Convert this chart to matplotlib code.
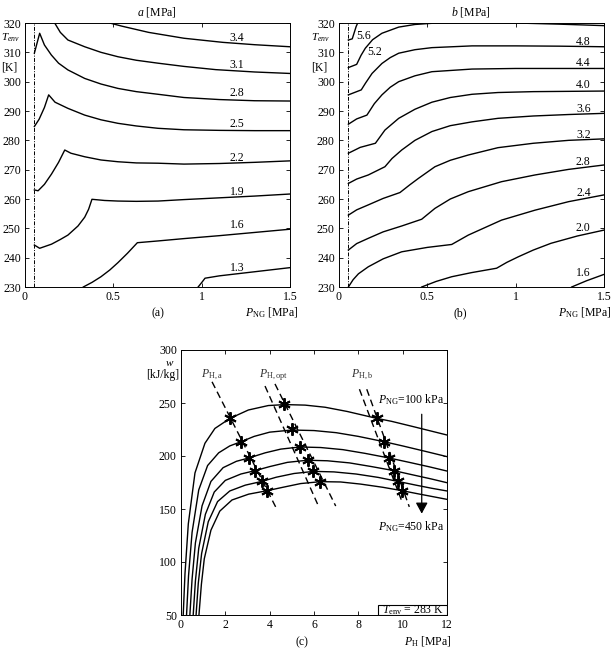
import numpy as np
import matplotlib
matplotlib.use('Agg')
import matplotlib.pyplot as plt
from matplotlib.patches import Rectangle

# Fuente tipo Times para todo
plt.rcParams['font.family'] = 'serif'
plt.rcParams['font.serif'] = ['Liberation Serif']
plt.rcParams['mathtext.fontset'] = 'custom'
plt.rcParams['mathtext.rm'] = 'Liberation Serif'
plt.rcParams['mathtext.it'] = 'Liberation Serif:italic'
plt.rcParams['mathtext.bf'] = 'Liberation Serif:bold'
plt.rcParams['font.size'] = 8.5

# ---------------- datos panel (a) ----------------
a_labels = ['1.3', '1.6', '1.9', '2.2', '2.5', '2.8', '3.1', '3.4']
a_x = [
    [0.98, 1.0, 1.019, 1.1, 1.3, 1.5],
    [0.33, 0.38, 0.43, 0.48, 0.526, 0.58, 0.636, 0.753, 0.9, 1.1, 1.3, 1.5],
    [0.053, 0.083, 0.15, 0.2, 0.243, 0.3, 0.338, 0.36, 0.379, 0.45, 0.526, 0.63, 0.753, 0.9, 1.1, 1.3, 1.5],
    [0.053, 0.074, 0.11, 0.15, 0.19, 0.225, 0.26, 0.338, 0.43, 0.526, 0.63, 0.753, 0.9, 1.1, 1.3, 1.5],
    [0.053, 0.08, 0.11, 0.134, 0.17, 0.243, 0.338, 0.43, 0.526, 0.63, 0.753, 0.9, 1.1, 1.3, 1.5],
    [0.053, 0.083, 0.11, 0.149, 0.19, 0.243, 0.338, 0.43, 0.526, 0.63, 0.753, 0.9, 1.1, 1.3, 1.5],
    [0.168, 0.2, 0.243, 0.338, 0.43, 0.526, 0.63, 0.753, 0.9, 1.08, 1.3, 1.5],
    [0.48, 0.55, 0.7, 0.9, 1.12, 1.3, 1.5],
]
a_T = [
    [230, 231.5, 233, 233.8, 235.2, 236.6],
    [230, 231.6, 233.5, 235.8, 238.3, 241.5, 245.1, 245.7, 246.5, 247.5, 248.6, 249.7],
    [244.3, 243.2, 244.6, 246.2, 247.7, 250.8, 253.8, 256.5, 259.9, 259.5, 259.3, 259.2, 259.3, 259.8, 260.4, 261, 261.7],
    [263.1, 262.8, 265, 268.5, 272.5, 276.7, 275.6, 274.4, 273.3, 272.7, 272.3, 272.2, 271.9, 272.1, 272.5, 273],
    [284.7, 287.2, 291.2, 295.5, 293, 290.9, 288.6, 287, 285.8, 284.9, 284.1, 283.6, 283.4, 283.3, 283.3],
    [309.7, 316.5, 312.5, 309.1, 306.3, 304, 301.1, 299.2, 297.7, 296.6, 295.7, 294.6, 293.9, 293.5, 293.4],
    [320, 316.8, 314.2, 311.9, 310, 308.5, 307.3, 306.3, 305.2, 304.1, 303.3, 302.8],
    [320, 318.9, 316.8, 314.8, 313.4, 312.6, 311.9],
]
a_lab_T = [236.4, 251, 262.5, 273.9, 285.5, 296, 305.7, 315]

# ---------------- datos panel (b) ----------------
b_labels = ['1.6', '2.0', '2.4', '2.8', '3.2', '3.6', '4.0', '4.4', '4.8', '5.2', '5.6']
b_x = [
    [1.317, 1.4, 1.5],
    [0.468, 0.55, 0.638, 0.75, 0.892, 0.95, 1.015, 1.1, 1.2, 1.35, 1.5],
    [0.053, 0.08, 0.11, 0.166, 0.25, 0.355, 0.5, 0.638, 0.732, 0.92, 1.11, 1.3, 1.5],
    [0.053, 0.1, 0.166, 0.25, 0.355, 0.468, 0.543, 0.63, 0.732, 0.92, 1.11, 1.3, 1.5],
    [0.053, 0.1, 0.166, 0.25, 0.345, 0.4, 0.449, 0.543, 0.63, 0.732, 0.9, 1.1, 1.3, 1.5],
    [0.053, 0.1, 0.166, 0.26, 0.3, 0.355, 0.43, 0.526, 0.63, 0.753, 0.9, 1.1, 1.3, 1.5],
    [0.053, 0.12, 0.206, 0.26, 0.338, 0.43, 0.526, 0.63, 0.753, 0.9, 1.1, 1.3, 1.5],
    [0.053, 0.1, 0.158, 0.2, 0.243, 0.29, 0.338, 0.43, 0.526, 0.753, 1.0, 1.25, 1.5],
    [0.053, 0.126, 0.15, 0.187, 0.243, 0.29, 0.338, 0.43, 0.526, 0.753, 1.0, 1.25, 1.5],
    [0.053, 0.1, 0.125, 0.149, 0.19, 0.243, 0.338, 0.43, 0.526, 0.75, 1.0, 1.25, 1.5],
    [0.053, 0.075, 0.085, 0.097, 0.108],
]
b_T = [
    [230, 232.1, 234.3],
    [230, 231.9, 233.5, 234.9, 236.4, 238.4, 240.3, 242.6, 244.9, 247.4, 249.4],
    [230, 232.5, 234.5, 236.9, 239.6, 242, 243.5, 244.5, 247.7, 252.8, 256.2, 259.1, 261.4],
    [242.6, 244.8, 246.6, 248.8, 250.8, 253.1, 256.8, 260, 262.5, 265.9, 268.2, 270.1, 271.6],
    [254.5, 256.3, 258, 260.2, 262.2, 264.8, 267, 271, 273.2, 275, 277.5, 279, 280, 280.5],
    [265.3, 266.8, 268.2, 271, 273.8, 276.7, 280, 283, 285, 286.3, 287.5, 288.3, 288.8, 289.2],
    [275.6, 277.6, 279, 283.5, 287.5, 290.6, 293, 294.6, 295.7, 296.3, 296.6, 296.7, 296.8],
    [285.5, 287.3, 288.6, 292.5, 295.5, 298.1, 300, 302, 303.4, 304.3, 304.5, 304.5, 304.5],
    [295.5, 297.2, 299.5, 302.8, 306.2, 308.2, 309.7, 310.9, 311.6, 312.2, 312.2, 312.1, 311.9],
    [304.8, 305.9, 309, 311.4, 314.3, 316.5, 318.6, 319.5, 319.9, 320.1, 320, 319.6, 319.1],
    [314.2, 314.6, 316.5, 318.8, 320.3],
]
b_lab_T = [234.7, 250.1, 262, 272.5, 281.9, 290.6, 298.9, 306.2, 313.6]

# ---------------- datos panel (c) ----------------
c_x = [
    [0.1, 0.18, 0.33, 0.63, 1.08, 1.53, 2.21, 3.04, 3.94, 4.7, 5.6, 6.5, 7.5, 8.83, 9.5, 10.5, 11.5, 12],
    [0.25, 0.34, 0.5, 0.8, 1.2, 1.7, 2.2, 2.71, 3.3, 4.0, 5.0, 6.0, 7.0, 8.0, 9.16, 10.0, 11.0, 12],
    [0.4, 0.5, 0.65, 0.95, 1.35, 1.9, 2.5, 3.07, 3.8, 4.5, 5.37, 6.3, 7.3, 8.3, 9.37, 10.3, 11.2, 12],
    [0.55, 0.65, 0.8, 1.1, 1.5, 2.0, 2.7, 3.34, 4.0, 4.8, 5.7, 6.6, 7.6, 8.6, 9.6, 10.5, 11.3, 12],
    [0.68, 0.78, 0.93, 1.23, 1.65, 2.2, 2.9, 3.64, 4.3, 5.1, 6.0, 6.9, 7.9, 8.9, 9.79, 10.6, 11.3, 12],
    [0.81, 0.92, 1.05, 1.35, 1.75, 2.3, 3.05, 3.89, 4.6, 5.4, 6.3, 7.2, 8.1, 9.1, 9.97, 10.7, 11.4, 12],
]
c_w = [
    [50, 89, 136, 184, 212, 226, 235.5, 243.4, 247.6, 248.5, 248, 246, 242, 235.5, 232.7, 227.6, 222.4, 219.8],
    [50, 87, 128, 168, 191, 203, 209.5, 213.5, 218.5, 222.5, 224.5, 224, 222, 218.5, 213.5, 209.5, 204.5, 199.4],
    [50, 84, 118, 153, 176, 189, 195, 198.2, 203, 206.5, 208.5, 208, 206, 202.5, 198.2, 194, 189.8, 185.8],
    [50, 82, 113, 145, 166, 177, 183, 186.2, 190, 194, 196, 195.5, 193.5, 190, 186.2, 182, 178.3, 174.8],
    [50, 80, 108, 138, 157, 167, 172.5, 176, 180, 183.5, 185.5, 185, 183, 179.8, 176, 172.5, 169.6, 167],
    [50, 79, 103, 130, 148, 158.5, 164, 167.3, 170.5, 174, 175.8, 175.5, 173.5, 170.5, 167.3, 164.3, 161.5, 159.1],
]
# puntos marcados (*)
star_a_x = [2.21, 2.71, 3.07, 3.34, 3.64, 3.89]
star_opt_x = [4.65, 5.0, 5.38, 5.71, 5.97, 6.29]
star_b_x = [8.83, 9.15, 9.37, 9.6, 9.79, 9.97]
star_w = [235.5, 213.5, 198.3, 186.2, 176.1, 167.3]
star_opt_w = [249, 225.2, 208.2, 196.2, 185.8, 175.8]
# rectas discontinuas (extremos)
line_a = ([1.4, 4.27], [270, 152])
line_opt1 = ([3.79, 6.2], [266, 152.8])
line_opt2 = ([4.24, 6.98], [268, 152.8])
line_b1 = ([8.05, 9.95], [263, 158])
line_b2 = ([8.38, 10.3], [263, 152])

W, H = 612, 669
fig = plt.figure(figsize=(W / 100, H / 100), dpi=100)


def px(x0, y0, x1, y1):
    # rectangulo en pixeles -> fraccion de figura
    return [x0 / W, 1 - y1 / H, (x1 - x0) / W, (y1 - y0) / H]


def estilo(ax):
    ax.tick_params(direction='in', top=True, right=True, length=3, width=0.6,
                   labelsize=8.5, pad=3)
    for s in ax.spines.values():
        s.set_linewidth(0.7)


def panel_T(ax, xs, Ts, labels, lab_T, lab_x):
    ax.axvline(0.05, color='k', lw=0.7, ls=(0, (4, 1.5, 1, 1.5)))
    for x, T in zip(xs, Ts):
        ax.plot(x, T, color='k', lw=1.0)
    for lab, t in zip(labels, lab_T):
        ax.text(lab_x, t, lab, ha='center', va='center', fontsize=8.5)
    ax.set_xlim(0, 1.5)
    ax.set_ylim(230, 320)
    ax.set_xticks([0, 0.5, 1, 1.5])
    ax.set_xticklabels(['0', '0.5', '1', '1.5'])
    ax.set_yticks(np.arange(230, 321, 10))
    estilo(ax)


# ---- (a) ----
ax1 = fig.add_axes(px(25, 23, 290, 287))
panel_T(ax1, a_x, a_T, a_labels, a_lab_T, 1.2)
fig.text(157 / W, 1 - 12 / H, r'$a$ [MPa]', ha='center', va='center', fontsize=8.5)
fig.text(158 / W, 1 - 313 / H, '(a)', ha='center', va='center', fontsize=8.5)
fig.text(298 / W, 1 - 313 / H, r'$P_{\rm NG}$ [MPa]', ha='right', va='center', fontsize=8.5)
fig.text(1 / W, 1 - 38 / H, r'$T_{env}$', ha='left', va='center', fontsize=8)
fig.text(1 / W, 1 - 67 / H, '[K]', ha='left', va='center', fontsize=8.5)

# ---- (b) ----
ax2 = fig.add_axes(px(339, 23, 604, 287))
panel_T(ax2, b_x, b_T, b_labels[:9], b_lab_T, 1.383)
ax2.text(0.14, 315.7, '5.6', ha='center', va='center', fontsize=8.5)
ax2.text(0.2, 310.2, '5.2', ha='center', va='center', fontsize=8.5)
fig.text(471 / W, 1 - 12 / H, r'$b$ [MPa]', ha='center', va='center', fontsize=8.5)
fig.text(460 / W, 1 - 313 / H, '(b)', ha='center', va='center', fontsize=8.5)
fig.text(611 / W, 1 - 313 / H, r'$P_{\rm NG}$ [MPa]', ha='right', va='center', fontsize=8.5)
fig.text(320 / W, 1 - 38 / H, r'$T_{env}$', ha='center', va='center', fontsize=8)
fig.text(319 / W, 1 - 67 / H, '[K]', ha='center', va='center', fontsize=8.5)

# ---- (c) ----
ax3 = fig.add_axes(px(181, 350, 447, 615))
for x, w in zip(c_x, c_w):
    ax3.plot(x, w, color='k', lw=1.0)
for ln in [line_a, line_opt1, line_opt2, line_b1, line_b2]:
    ax3.plot(ln[0], ln[1], color='k', lw=1.0, ls=(0, (5, 3)))
for sx, sw in [(star_a_x, star_w), (star_opt_x, star_opt_w), (star_b_x, star_w)]:
    ax3.plot(sx, sw, ls='none', marker=(6, 2, 0), ms=9, mew=1.4, color='k')
ax3.annotate('', xy=(10.86, 143), xytext=(10.86, 242),
             arrowprops=dict(arrowstyle='-|>,head_length=0.55,head_width=0.3',
                             color='k', lw=0.9, mutation_scale=12))
ax3.text(1.42, 276, r'$P_{\rm H,a}$', ha='center', va='center', fontsize=8.5, color='#333333')
ax3.text(4.19, 276, r'$P_{\rm H,opt}$', ha='center', va='center', fontsize=8.5, color='#333333')
ax3.text(8.16, 276, r'$P_{\rm H,b}$', ha='center', va='center', fontsize=8.5, color='#333333')
ax3.text(8.9, 253, r'$P_{\rm NG}$=100 kPa', ha='left', va='center', fontsize=8.5)
ax3.text(8.9, 133, r'$P_{\rm NG}$=450 kPa', ha='left', va='center', fontsize=8.5)
ax3.add_patch(Rectangle((8.9, 50), 3.1, 9.4, fc='w', ec='k', lw=0.8, zorder=3))
ax3.text(10.45, 54.9, r'$T_{\rm env}$ = 283 K', ha='center', va='center', fontsize=8.5, zorder=4)
ax3.set_xlim(0, 12)
ax3.set_ylim(50, 300)
ax3.set_xticks(np.arange(0, 13, 2))
ax3.set_yticks(np.arange(50, 301, 50))
estilo(ax3)
fig.text(170 / W, 1 - 363 / H, r'$w$', ha='center', va='center', fontsize=8)
fig.text(163 / W, 1 - 375 / H, '[kJ/kg]', ha='center', va='center', fontsize=8.5)
fig.text(302 / W, 1 - 642 / H, '(c)', ha='center', va='center', fontsize=8.5)
fig.text(452 / W, 1 - 642 / H, r'$P_{\rm H}$ [MPa]', ha='right', va='center', fontsize=8.5)

fig.savefig('out.png', dpi=100)
